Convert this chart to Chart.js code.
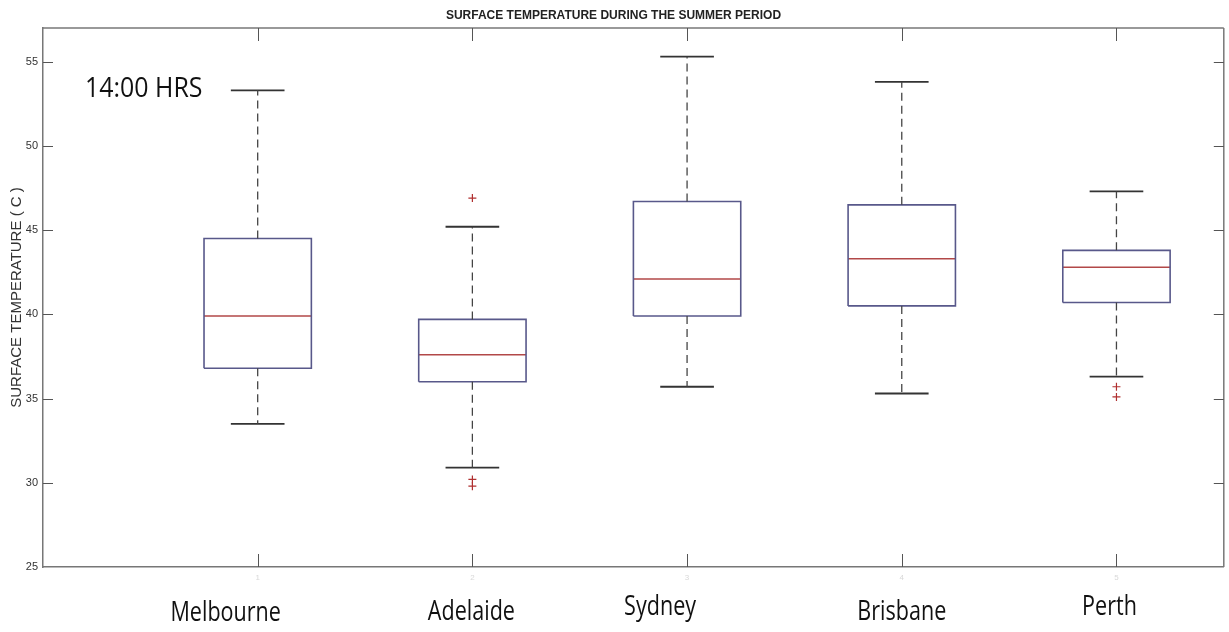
<!DOCTYPE html>
<html><head><meta charset="utf-8">
<script src="https://cdn.jsdelivr.net/npm/chart.js@4.4.1/dist/chart.umd.min.js"></script>
<style>html,body{margin:0;padding:0;background:#fff;}#wrap{width:1229px;height:632px;}</style>
</head><body><div id="wrap"><canvas id="c" width="1229" height="632"></canvas></div>
<script>
// ---- data ----
const categories   = ['Melbourne', 'Adelaide', 'Sydney', 'Brisbane', 'Perth'];
const lowerWhisker = [33.5, 30.9, 35.7, 35.3, 36.3];
const q1           = [36.8, 36.0, 39.9, 40.5, 40.7];
const median       = [39.9, 37.6, 42.1, 43.3, 42.8];
const q3           = [44.5, 39.7, 46.7, 46.5, 43.8];
const upperWhisker = [53.3, 45.2, 55.3, 53.8, 47.3];
const outliers     = [[], [46.9, 30.2, 29.8], [], [], [35.7, 35.1]];
const yTicks       = [25, 30, 35, 40, 45, 50, 55];
const xTickLabels  = ['1', '2', '3', '4', '5'];
const titleText    = 'SURFACE TEMPERATURE DURING THE SUMMER PERIOD';
const yTitle       = 'SURFACE TEMPERATURE ( C )';
const annotation   = '14:00 HRS';

// ---- styles ----
const BOX_HALF = 0.25, CAP_HALF = 0.125;
const labelDx = [-32, -1, -27, 0, -7];
const labelBase = [621, 620, 615, 620, 615];
const LABEL_FONT = '28px "Open Sans"', LABEL_SX = 0.77;
const FRAME = '#777';

const pos = i => i + 1;
const boxPts = [], medPts = [], whiskPts = [], capPts = [], outPts = [];
categories.forEach((c, i) => {
  const x = pos(i);
  boxPts.push({x: x - BOX_HALF, y: q1[i]}, {x: x + BOX_HALF, y: q1[i]}, {x: x + BOX_HALF, y: q3[i]},
              {x: x - BOX_HALF, y: q3[i]}, {x: x - BOX_HALF, y: q1[i]}, {x: x, y: null});
  medPts.push({x: x - BOX_HALF, y: median[i]}, {x: x + BOX_HALF, y: median[i]}, {x: x, y: null});
  whiskPts.push({x: x, y: q3[i]}, {x: x, y: upperWhisker[i]}, {x: x, y: null},
                {x: x, y: q1[i]}, {x: x, y: lowerWhisker[i]}, {x: x, y: null});
  capPts.push({x: x - CAP_HALF, y: upperWhisker[i]}, {x: x + CAP_HALF, y: upperWhisker[i]}, {x: x, y: null},
              {x: x - CAP_HALF, y: lowerWhisker[i]}, {x: x + CAP_HALF, y: lowerWhisker[i]}, {x: x, y: null});
  outliers[i].forEach(v => outPts.push({x: x, y: v}));
});

const lineDs = (data, color, width, dash) => ({
  type: 'scatter', data, showLine: true, spanGaps: false, borderColor: color, borderWidth: width,
  borderDash: dash || [], pointRadius: 0, pointHoverRadius: 0, fill: false,
  borderJoinStyle: 'miter', borderCapStyle: 'butt', tension: 0
});

const frameAndTicks = {
  id: 'frameAndTicks',
  afterDatasetsDraw(chart) {
    const {ctx, chartArea: a, scales} = chart;
    ctx.save();
    const ln = (x1, y1, x2, y2) => { ctx.beginPath(); ctx.moveTo(x1, y1); ctx.lineTo(x2, y2); ctx.stroke(); };
    ctx.strokeStyle = FRAME; ctx.lineWidth = 1.5;
    ln(a.left, a.top, a.right, a.top);
    ln(a.right, a.top, a.right, a.bottom);
    ctx.strokeStyle = '#555'; ctx.lineWidth = 1;
    scales.y.ticks.forEach(t => {
      const py = Math.round(scales.y.getPixelForValue(t.value)) + 0.5;
      if (py > a.bottom - 2) return;
      ln(a.left, py, a.left + 10, py); ln(a.right, py, a.right - 10, py);
    });
    scales.x.ticks.forEach(t => {
      const px = Math.round(scales.x.getPixelForValue(t.value)) + 0.5;
      ln(px, a.bottom, px, a.bottom - 13); ln(px, a.top, px, a.top + 13);
    });
    ctx.restore();
  }
};

const texts = {
  id: 'texts',
  afterDraw(chart) {
    const {ctx, chartArea: a, scales} = chart;
    ctx.save();
    ctx.fillStyle = '#111';
    ctx.textBaseline = 'alphabetic';
    ctx.font = LABEL_FONT;
    ctx.textAlign = 'center';
    categories.forEach((c, i) => {
      const px = scales.x.getPixelForValue(pos(i)) + labelDx[i];
      ctx.save(); ctx.translate(px, labelBase[i]); ctx.scale(LABEL_SX, 1); ctx.fillText(c, 0, 0); ctx.restore();
    });
    ctx.textAlign = 'left';
    ctx.font = '28px "Open Sans"';
    ctx.save(); ctx.translate(a.left + 42, 97); ctx.scale(0.89, 1); ctx.fillText(annotation, 0, 0); ctx.restore();
    ctx.restore();
  }
};

new Chart(document.getElementById('c'), {
  type: 'scatter',
  data: {
    datasets: [
      lineDs(whiskPts, '#444', 1.3, [8, 5]),
      lineDs(boxPts, '#58588a', 1.6),
      lineDs(medPts, '#b24848', 1.5),
      lineDs(capPts, '#333', 1.8),
      { type: 'scatter', data: outPts, showLine: false, pointStyle: 'cross', pointRadius: 4,
        pointBorderColor: '#b03030', pointBorderWidth: 1.2, pointBackgroundColor: '#b03030' }
    ]
  },
  options: {
    responsive: false, animation: false, devicePixelRatio: 1,
    layout: { padding: { left: 0, right: 2, top: 0, bottom: 0 } },
    plugins: {
      legend: { display: false }, tooltip: { enabled: false },
      title: { display: true, text: titleText, color: '#222', align: 'center',
               font: { family: '"Liberation Sans", Arial, sans-serif', size: 12, weight: 'bold', lineHeight: 1.2 },
               padding: { top: 8, bottom: 5.6 } }
    },
    scales: {
      x: {
        type: 'linear', position: 'bottom', min: 0, max: 5.5,
        afterBuildTicks: s => { s.ticks = xTickLabels.map((_, i) => ({ value: pos(i) })); },
        afterFit: s => { s.height = 65; },
        grid: { display: false, drawTicks: false },
        border: { display: true, color: FRAME, width: 1.5 },
        ticks: { callback: (v, i) => xTickLabels[i], color: '#d8d8d8', padding: 6,
                 font: { family: '"Liberation Sans", Arial', size: 8 }, maxRotation: 0 }
      },
      y: {
        type: 'linear', position: 'left', min: 25, max: 57,
        afterBuildTicks: s => { s.ticks = yTicks.map(v => ({ value: v })); },
        afterFit: s => { s.width = 43; },
        grid: { display: false, drawTicks: false },
        border: { display: true, color: FRAME, width: 1.5 },
        ticks: { color: '#333', padding: 5, font: { family: '"Liberation Sans", Arial', size: 11 } },
        title: { display: true, text: yTitle, color: '#333', padding: { top: 8, bottom: 0 },
                 font: { family: '"Liberation Sans", Arial', size: 15, lineHeight: 1.2 } }
      }
    }
  },
  plugins: [frameAndTicks, texts]
});
</script></body></html>
